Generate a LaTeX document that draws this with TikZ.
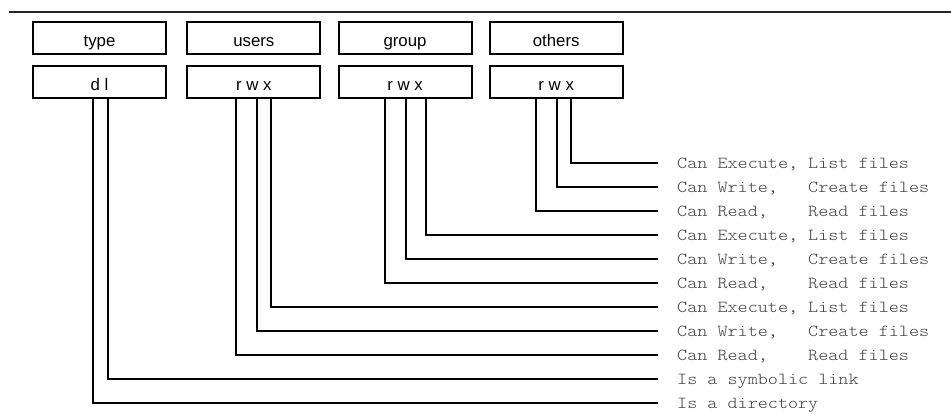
\documentclass[tikz,border=0pt]{standalone}
\usepackage{fontspec}
\setmainfont{Liberation Sans}
\setmonofont[FakeStretch=1.143]{Latin Modern Mono Light}
\definecolor{txtgray}{HTML}{404040}
\begin{document}
\begin{tikzpicture}[x=1pt,y=-1pt,
  box/.style={draw,line width=2pt,minimum width=133pt,minimum height=32.5pt,inner sep=0pt,text height=16.5pt,text depth=0pt,font=\fontsize{16.8}{18}\selectfont},
  lbl/.style={anchor=base west,inner sep=0pt,text=txtgray,font=\ttfamily\fontsize{16.8}{18}\selectfont},
  conn/.style={line width=2pt}]
\useasboundingbox (0,0) rectangle (951,413);
\draw[line width=1.4pt,color=black!85] (9,12) -- (951,12);
% top row
\node[box] (t1) at (99.5,38) {type};
\node[box] (t2) at (253.8,38) {users};
\node[box] (t3) at (405,38) {group};
\node[box] (t4) at (556.2,38) {others};
% second row
\node[box] (b1) at (99.5,82.2) {d l};
\node[box] (b2) at (253.8,82.2) {r w x};
\node[box] (b3) at (405,82.2) {r w x};
\node[box] (b4) at (556.2,82.2) {r w x};
% labels
\node[lbl] (L1) at (677,168.5) {Can Execute, List files};
\node[lbl] (L2) at (677,192.5) {Can Write,~~~Create files};
\node[lbl] (L3) at (677,216.5) {Can Read,~~~~Read files};
\node[lbl] (L4) at (677,240.5) {Can Execute, List files};
\node[lbl] (L5) at (677,264.5) {Can Write,~~~Create files};
\node[lbl] (L6) at (677,288.5) {Can Read,~~~~Read files};
\node[lbl] (L7) at (677,312.5) {Can Execute, List files};
\node[lbl] (L8) at (677,336.5) {Can Write,~~~Create files};
\node[lbl] (L9) at (677,360.5) {Can Read,~~~~Read files};
\node[lbl] (L10) at (677,384.5) {Is a symbolic link};
\node[lbl] (L11) at (677,408.5) {Is a directory};
% end points of connectors
\foreach \i/\y in {1/163,2/187,3/211,4/235,5/259,6/283,7/307,8/331,9/355,10/379,11/403}
  \coordinate (E\i) at (658,\y);
% connectors
\draw[conn] (b4.south -| 571,0) |- (E1);
\draw[conn] (b4.south -| 557,0) |- (E2);
\draw[conn] (b4.south -| 536,0) |- (E3);
\draw[conn] (b3.south -| 426,0) |- (E4);
\draw[conn] (b3.south -| 406,0) |- (E5);
\draw[conn] (b3.south -| 385,0) |- (E6);
\draw[conn] (b2.south -| 271,0) |- (E7);
\draw[conn] (b2.south -| 257,0) |- (E8);
\draw[conn] (b2.south -| 236,0) |- (E9);
\draw[conn] (b1.south -| 108,0) |- (E10);
\draw[conn] (b1.south -| 93,0) |- (E11);
\end{tikzpicture}
\end{document}
